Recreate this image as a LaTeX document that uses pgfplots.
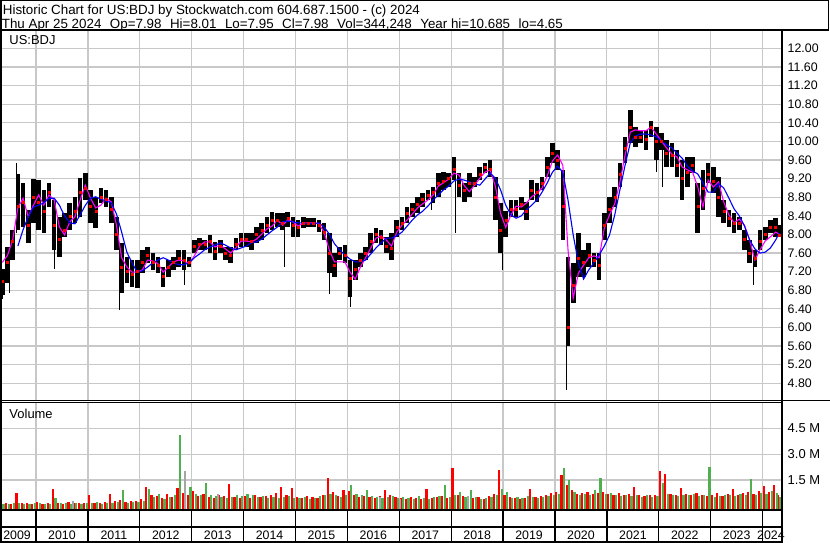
\documentclass[border=0pt]{standalone}
\usepackage{fontspec}
\setmainfont{Liberation Sans}
\usepackage{graphicx}
\usepackage{pgfplots}
\usepackage{pgfplotstable}
\pgfplotsset{compat=1.18}

\definecolor{gridc}{RGB}{200,200,200}
\definecolor{maone}{RGB}{255,0,255}
\definecolor{matwo}{RGB}{0,0,255}
\definecolor{vred}{RGB}{255,0,0}
\definecolor{vgreen}{RGB}{80,176,80}
\definecolor{vgray}{RGB}{165,165,165}

\newcommand{\hdfont}{\fontsize{13.4}{15}\selectfont}
\newcommand{\lbfont}{\fontsize{13}{15}\selectfont}
\newcommand{\tkfont}{\fontsize{12.4}{15}\selectfont}

% price: t = decimal year, hi/lo = range of the bar, cl = close, m1/m2 = moving averages
\pgfplotstableread{
t hi lo cl m1 m2
2009.35 7.25 6.70 7.00 7.40 nan
2009.45 7.73 6.96 7.40 7.55 nan
2009.55 8.10 7.45 7.85 7.88 nan
2009.65 9.30 8.10 8.60 8.57 7.75
2009.75 9.11 8.16 8.70 8.78 8.10
2009.85 8.53 7.82 8.20 8.38 8.38
2009.95 9.20 8.25 8.80 8.63 8.59
2010.05 9.17 8.10 8.70 8.85 8.63
2010.15 8.96 8.03 8.50 8.63 8.68
2010.25 9.11 8.59 8.90 8.85 8.78
2010.35 8.74 7.67 8.20 8.74 8.78
2010.45 8.38 7.52 7.90 8.16 8.63
2010.55 8.46 7.95 8.10 7.99 8.40
2010.65 8.67 8.10 8.40 8.27 8.25
2010.75 8.81 8.25 8.50 8.38 8.23
2010.85 9.21 8.38 8.90 8.74 8.42
2010.95 9.32 8.74 9.00 9.06 8.63
2011.05 8.96 8.25 8.60 8.78 8.78
2011.15 8.81 8.14 8.50 8.57 8.81
2011.25 9.00 8.67 8.80 8.63 8.76
2011.35 8.96 8.59 8.75 8.78 8.72
2011.45 8.81 8.25 8.55 8.70 8.68
2011.55 8.38 7.67 8.00 8.20 8.44
2011.65 7.82 6.74 7.30 7.50 8.05
2011.75 7.52 6.96 7.20 7.30 7.62
2011.85 7.45 6.88 7.15 7.19 7.39
2011.95 7.45 6.85 7.20 7.19 7.19
2012.05 7.67 7.17 7.40 7.24 7.22
2012.15 7.73 7.39 7.55 7.45 7.30
2012.25 7.60 7.24 7.40 7.43 7.39
2012.35 7.52 7.17 7.35 7.37 7.45
2012.45 7.30 6.88 7.10 7.19 7.50
2012.55 7.45 7.09 7.30 7.30 7.45
2012.65 7.52 7.24 7.40 7.41 7.39
2012.75 7.67 7.30 7.50 7.45 7.35
2012.85 7.67 7.24 7.45 7.43 7.35
2012.95 7.52 7.30 7.40 7.37 7.39
2013.05 7.88 7.60 7.75 7.54 7.50
2013.15 7.92 7.67 7.80 7.75 7.58
2013.25 7.88 7.67 7.80 7.84 7.67
2013.35 7.99 7.60 7.85 7.84 7.73
2013.45 7.84 7.45 7.65 7.73 7.77
2013.55 7.88 7.60 7.75 7.77 7.82
2013.65 7.73 7.45 7.60 7.69 7.77
2013.75 7.73 7.39 7.55 7.60 7.71
2013.85 7.92 7.67 7.80 7.71 7.67
2013.95 8.03 7.73 7.90 7.86 7.71
2014.05 8.03 7.73 7.90 7.86 7.75
2014.15 8.03 7.67 7.85 7.84 7.82
2014.25 8.16 7.82 8.00 7.90 7.84
2014.35 8.25 7.88 8.10 8.01 7.90
2014.45 8.38 8.03 8.20 8.12 7.99
2014.55 8.48 8.10 8.30 8.18 8.08
2014.65 8.46 8.16 8.30 8.31 8.16
2014.75 8.46 8.10 8.25 8.20 8.27
2014.85 8.48 8.16 8.35 8.31 8.29
2014.95 8.38 7.95 8.20 8.27 8.27
2015.05 8.31 7.95 8.15 8.18 8.25
2015.15 8.38 8.14 8.25 8.25 8.25
2015.25 8.35 8.16 8.25 8.25 8.23
2015.35 8.35 8.16 8.25 8.25 8.23
2015.45 8.31 8.05 8.20 8.23 8.25
2015.55 8.25 7.88 8.05 8.05 8.16
2015.65 8.03 7.17 7.60 7.67 8.01
2015.75 7.60 7.09 7.35 7.41 7.80
2015.85 7.73 7.45 7.60 7.41 7.67
2015.95 7.77 7.39 7.55 7.41 7.56
2016.05 7.45 6.66 7.05 7.19 7.47
2016.15 7.45 7.02 7.25 7.04 7.41
2016.25 7.60 7.30 7.45 7.30 7.41
2016.35 7.73 7.45 7.60 7.50 7.45
2016.45 8.03 7.60 7.85 7.71 7.58
2016.55 8.14 7.82 8.00 7.92 7.71
2016.65 8.10 7.77 7.95 7.97 7.82
2016.75 7.95 7.60 7.75 7.88 7.92
2016.85 8.03 7.45 7.70 7.75 7.92
2016.95 8.31 7.95 8.15 8.05 7.97
2017.05 8.38 8.10 8.25 8.20 8.05
2017.15 8.59 8.25 8.45 8.31 8.18
2017.25 8.67 8.38 8.55 8.44 8.31
2017.35 8.81 8.46 8.65 8.57 8.42
2017.45 8.89 8.59 8.75 8.66 8.50
2017.55 8.96 8.74 8.85 8.74 8.61
2017.65 9.02 8.67 8.90 8.85 8.74
2017.75 9.32 8.81 9.10 9.04 8.85
2017.85 9.34 8.96 9.15 9.11 8.96
2017.95 9.32 9.02 9.20 9.19 9.04
2018.05 9.67 9.17 9.40 9.32 9.15
2018.15 9.32 8.81 9.05 9.28 9.19
2018.25 9.11 8.70 8.95 9.05 9.17
2018.35 9.32 8.81 9.10 8.92 9.13
2018.45 9.24 9.02 9.10 9.06 9.09
2018.55 9.45 9.17 9.30 9.21 9.06
2018.65 9.54 9.32 9.45 9.34 9.19
2018.75 9.60 9.24 9.40 9.39 9.32
2018.85 9.24 8.31 8.80 9.04 9.21
2018.95 8.67 7.60 8.10 8.46 8.96
2019.05 8.50 7.95 8.30 8.15 8.63
2019.15 8.74 8.38 8.55 8.42 8.42
2019.25 8.74 8.38 8.55 8.61 8.35
2019.35 8.81 8.53 8.65 8.59 8.40
2019.45 8.70 8.31 8.50 8.68 8.53
2019.55 9.17 8.74 8.95 8.81 8.63
2019.65 9.11 8.70 8.90 8.89 8.74
2019.75 9.24 8.96 9.10 9.00 8.91
2019.85 9.67 9.24 9.45 9.26 9.11
2019.95 9.97 9.54 9.75 9.58 9.34
2020.05 9.82 9.39 9.60 9.71 9.47
2020.15 9.39 7.88 8.60 9.49 9.34
2020.25 7.52 5.60 6.00 7.67 8.74
2020.35 7.39 6.52 6.90 6.63 7.99
2020.45 8.03 7.09 7.50 7.17 7.39
2020.55 7.67 7.09 7.40 7.34 7.04
2020.65 7.82 7.30 7.55 7.50 7.24
2020.75 7.60 7.30 7.45 7.54 7.39
2020.85 7.60 7.02 7.35 7.50 7.56
2020.95 8.46 7.88 8.20 8.14 7.75
2021.05 8.81 8.25 8.55 8.42 7.99
2021.15 9.02 8.59 8.80 8.66 8.42
2021.25 9.54 9.02 9.30 9.13 8.96
2021.35 10.10 9.54 9.85 9.71 9.49
2021.45 10.68 9.97 10.30 10.20 9.97
2021.55 10.32 9.88 10.10 10.25 10.12
2021.65 10.25 9.97 10.10 10.23 10.16
2021.75 10.25 9.82 10.05 10.23 10.16
2021.85 10.43 10.10 10.30 10.31 10.14
2021.95 10.32 9.60 10.00 10.16 10.10
2022.05 10.18 9.82 10.00 10.01 10.01
2022.15 10.03 9.45 9.75 9.86 9.93
2022.25 9.97 9.45 9.70 9.73 9.86
2022.35 9.82 9.24 9.50 9.67 9.75
2022.45 9.60 8.74 9.20 9.45 9.64
2022.55 9.67 9.02 9.35 9.39 9.47
2022.65 9.67 9.32 9.50 9.34 9.37
2022.75 9.11 8.03 8.60 9.02 9.30
2022.85 9.39 8.53 9.00 8.59 9.11
2022.95 9.54 9.11 9.30 9.17 8.91
2023.05 9.45 8.89 9.15 9.02 8.91
2023.15 9.24 8.38 8.80 9.13 9.09
2023.25 8.74 8.25 8.50 8.70 9.00
2023.35 8.53 8.16 8.35 8.42 8.78
2023.45 8.46 8.03 8.25 8.25 8.55
2023.55 8.38 8.10 8.25 8.33 8.40
2023.65 8.10 7.67 7.90 8.20 8.18
2023.75 7.88 7.39 7.60 7.88 7.88
2023.85 7.67 7.30 7.50 7.45 7.69
2023.95 8.10 7.67 7.85 7.67 7.60
2024.05 8.16 7.88 8.00 7.86 7.62
2024.15 8.31 8.03 8.15 7.95 7.71
2024.25 8.35 7.95 8.15 8.05 7.88
2024.32 8.20 7.95 7.98 8.01 8.03
}\price

% long single-day wicks
\pgfplotstableread{
t hi lo
2009.36 7.25 6.62
2009.48 7.73 6.74
2009.63 9.54 8.03
2010.35 8.74 7.26
2011.60 7.82 6.38
2012.87 7.52 6.92
2014.78 8.46 7.30
2015.65 8.03 6.73
2016.06 7.45 6.44
2017.62 8.90 8.53
2018.09 9.67 8.03
2018.98 8.67 7.24
2020.22 7.52 4.66
2021.96 10.00 9.34
2022.08 10.00 9.02
2023.82 7.67 6.92
}\wicks

% volume in millions: vr = down days, vg = up days
\pgfplotstableread{
t vr vg
2009.35 0.12 0.10
2009.45 0.15 0.12
2009.55 0.10 0.14
2009.65 0.76 0.15
2009.75 0.14 0.12
2009.85 0.18 0.10
2009.95 0.12 0.16
2010.05 0.20 0.14
2010.15 0.12 0.10
2010.25 0.16 0.12
2010.35 0.97 0.45
2010.45 0.18 0.14
2010.55 0.12 0.16
2010.65 0.20 0.12
2010.75 0.15 0.18
2010.85 0.14 0.12
2010.95 0.18 0.15
2011.05 0.62 0.14
2011.15 0.15 0.20
2011.25 0.18 0.12
2011.35 0.20 0.15
2011.45 0.68 0.18
2011.55 0.25 0.20
2011.65 0.35 0.92
2011.75 0.22 0.18
2011.85 0.30 0.22
2011.95 0.25 0.20
2012.05 0.40 0.30
2012.15 1.10 1.00
2012.25 0.60 0.50
2012.35 0.55 0.70
2012.45 0.45 0.40
2012.55 0.70 0.50
2012.65 0.50 0.60
2012.75 1.05 4.10
2012.85 0.75 0.90
2012.95 0.60 1.10
2013.05 0.85 0.70
2013.15 0.55 0.60
2013.25 0.70 1.30
2013.35 0.50 0.65
2013.45 0.45 0.55
2013.55 0.60 0.50
2013.65 0.55 0.45
2013.75 1.25 0.50
2013.85 0.50 0.60
2013.95 0.45 0.55
2014.05 0.55 0.70
2014.15 0.45 0.60
2014.25 0.60 0.50
2014.35 0.50 0.55
2014.45 0.55 0.45
2014.55 0.65 0.50
2014.65 0.75 0.45
2014.75 1.10 0.50
2014.85 0.60 0.55
2014.95 1.05 0.45
2015.05 0.50 0.45
2015.15 0.45 0.50
2015.25 0.55 0.40
2015.35 0.50 0.45
2015.45 0.45 0.55
2015.55 0.60 0.65
2015.65 1.60 0.70
2015.75 0.80 0.60
2015.85 0.55 0.50
2015.95 0.90 0.65
2016.05 0.85 1.20
2016.15 0.60 0.70
2016.25 0.50 0.60
2016.35 0.55 0.90
2016.45 0.50 0.55
2016.55 0.45 0.50
2016.65 0.55 0.45
2016.75 0.90 0.50
2016.85 0.60 0.55
2016.95 0.50 0.45
2017.05 0.45 0.50
2017.15 0.40 0.45
2017.25 0.50 0.40
2017.35 0.45 0.55
2017.45 0.40 0.45
2017.55 1.00 0.40
2017.65 0.45 0.50
2017.75 0.50 0.55
2017.85 0.55 1.20
2017.95 0.45 0.50
2018.05 2.20 0.60
2018.15 0.60 0.80
2018.25 0.55 0.50
2018.35 0.50 0.90
2018.45 0.45 0.50
2018.55 0.50 0.40
2018.65 0.40 0.45
2018.75 0.55 0.50
2018.85 0.70 0.60
2018.95 2.10 1.00
2019.05 0.60 0.80
2019.15 0.50 0.45
2019.25 0.45 0.50
2019.35 0.40 0.45
2019.45 0.45 0.55
2019.55 1.00 0.50
2019.65 0.50 0.45
2019.75 0.55 0.50
2019.85 0.60 0.55
2019.95 0.75 0.60
2020.05 0.80 0.70
2020.15 1.80 2.20
2020.25 1.20 1.50
2020.35 0.90 0.80
2020.45 0.70 0.60
2020.55 0.75 0.70
2020.65 0.80 0.65
2020.75 0.70 0.90
2020.85 0.75 1.60
2020.95 0.80 0.70
2021.05 0.70 0.75
2021.15 0.65 0.60
2021.25 0.75 0.55
2021.35 0.60 0.65
2021.45 0.70 0.55
2021.55 1.10 0.60
2021.65 0.60 0.50
2021.75 0.55 0.60
2021.85 0.65 0.50
2021.95 0.60 0.55
2022.05 2.00 1.30
2022.15 1.85 0.70
2022.25 0.70 0.60
2022.35 0.65 0.55
2022.45 1.05 0.60
2022.55 0.70 0.65
2022.65 0.60 0.70
2022.75 0.75 0.55
2022.85 0.60 0.65
2022.95 0.55 2.25
2023.05 0.60 0.50
2023.15 0.75 0.55
2023.25 0.55 0.60
2023.35 0.70 0.65
2023.45 1.00 0.55
2023.55 0.60 0.70
2023.65 0.75 0.60
2023.75 0.80 1.55
2023.85 0.70 0.65
2023.95 0.85 0.75
2024.05 1.15 0.70
2024.15 0.80 0.85
2024.25 1.20 0.75
2024.32 0.60 0.50
}\vol

\pgfplotstableread{
t v
2010.72 0.25
2012.87 2.00
2013.50 0.70
2016.62 0.50
2017.02 0.40
2018.32 0.55
}\volgray

\begin{document}
\begin{tikzpicture}[x=1bp,y=1bp,font=\lbfont]
\useasboundingbox (0,0) rectangle (830,543);
\pgfplotsset{
  panel/.style={
    scale only axis, width=779bp,
    xmin=2009.3445, xmax=2024.354,
    axis line style={draw=none},
    major tick length=0pt,
    xtick={2010,...,2024}, xticklabels={},
    xmajorgrids, ymajorgrids,
    grid style={gridc, line width=1.2bp},
    yticklabel pos=right,
    tick label style={font=\tkfont},
    yticklabel style={anchor=west, inner sep=0pt, xshift=6.5bp},
  },
}

% price panel
\begin{axis}[panel, at={(2bp,142bp)}, anchor=south west, height=370bp,
  ymin=4.419, ymax=12.376,
  ytick={4.8,5.2,5.6,6.0,6.4,6.8,7.2,7.6,8.0,8.4,8.8,9.2,9.6,10.0,10.4,10.8,11.2,11.6,12.0},
  yticklabels={4.80,5.20,5.60,6.00,6.40,6.80,7.20,7.60,8.00,8.40,8.80,9.20,9.60,10.00,10.40,10.80,11.20,11.60,12.00}]
\addplot[draw=none, forget plot,
  error bars/.cd, y dir=plus, y explicit,
  error bar style={draw=black, line width=1bp}, error mark=none]
  table[x=t, y=lo, y error plus expr=\thisrow{hi}-\thisrow{lo}]{\wicks};
\addplot[only marks, mark=square*, mark size=1bp, mark options={draw=vred, fill=vred},
  error bars/.cd, y dir=both, y explicit,
  error bar style={draw=black, line width=4.6bp}, error mark=none]
  table[x=t, y=cl, y error plus expr=\thisrow{hi}-\thisrow{cl},
        y error minus expr=\thisrow{cl}-\thisrow{lo}]{\price};
\addplot[maone, line width=1.1bp, mark=none] table[x=t, y=m1]{\price};
\addplot[matwo, line width=1.1bp, mark=none, unbounded coords=jump] table[x=t, y=m2]{\price};
\end{axis}

% volume panel
\begin{axis}[panel, at={(2bp,34bp)}, anchor=south west, height=107bp,
  ymin=-0.19, ymax=6.04,
  ytick={1.5,3,4.5}, yticklabels={1.5 M,3.0 M,4.5 M},
  yticklabel style={font=\lbfont}]
\addplot[draw=none, error bars/.cd, y dir=plus, y explicit,
  error bar style={draw=vred, line width=2.2bp}, error mark=none]
  table[x expr=\thisrow{t}-0.025, y expr=-0.3, y error plus expr=\thisrow{vr}+0.3]{\vol};
\addplot[draw=none, error bars/.cd, y dir=plus, y explicit,
  error bar style={draw=vgreen, line width=2.2bp}, error mark=none]
  table[x expr=\thisrow{t}+0.025, y expr=-0.3, y error plus expr=\thisrow{vg}+0.3]{\vol};
\addplot[draw=none, error bars/.cd, y dir=plus, y explicit,
  error bar style={draw=vgray, line width=2.2bp}, error mark=none]
  table[x=t, y expr=-0.3, y error plus expr=\thisrow{v}+0.3]{\volgray};
\end{axis}

% year strip
\begin{axis}[at={(2bp,0bp)}, anchor=south west, scale only axis, width=779bp, height=33bp,
  xmin=2009.3445, xmax=2024.354, ymin=0, ymax=1, hide axis, clip=false]
\pgfplotsinvokeforeach{2010,...,2024}{\draw[line width=1.3bp] (axis cs:#1,0) -- (axis cs:#1,1);}
\pgfplotsinvokeforeach{2010,...,2023}{\node[anchor=base, inner sep=0pt, font=\tkfont] at (axis cs:#1.5,0.12) {#1};}
\node[anchor=base, inner sep=0pt, font=\tkfont] at (axis cs:2009.634,0.12) {2009};
\node[anchor=base, inner sep=0pt, font=\tkfont] at (axis cs:2024.16,0.12) {2024};
\end{axis}

% frame
\draw[line width=1bp] (0,542.5) -- (828,542.5) -- (828,513);
\draw[line width=2bp] (0,512.7) -- (829,512.7);
\draw[line width=2bp] (1,0) -- (1,543);
\draw[line width=2bp] (781.7,0) -- (781.7,512);
\draw[line width=1.2bp] (0,142.2) -- (830,142.2);
\draw[line width=1bp] (0,140.4) -- (781.7,140.4);
\draw[line width=2bp] (0,33) -- (781.7,33);
\draw[line width=2bp] (0,16) -- (781.7,16);
\draw[line width=2bp] (0,1) -- (781.7,1);

% texts
\node[anchor=base west, inner sep=0pt, font=\hdfont] at (2.7,528.7) {\resizebox{417bp}{!}{Historic Chart for US:BDJ by Stockwatch.com 604.687.1500 - (c) 2024}};
\node[anchor=base west, inner sep=0pt, font=\hdfont] at (1.7,514.9) {\resizebox{561bp}{!}{Thu Apr 25 2024\hspace{8.5bp}Op=7.98\hspace{8.5bp}Hi=8.01\hspace{8.5bp}Lo=7.95\hspace{8.5bp}Cl=7.98\hspace{8.5bp}Vol=344,248\hspace{8.5bp}Year hi=10.685\hspace{8.5bp}lo=4.65}};
\node[anchor=base west, inner sep=0pt] at (9.3,498) {US:BDJ};
\node[anchor=base west, inner sep=0pt] at (9.3,124.7) {Volume};
\end{tikzpicture}
\end{document}
